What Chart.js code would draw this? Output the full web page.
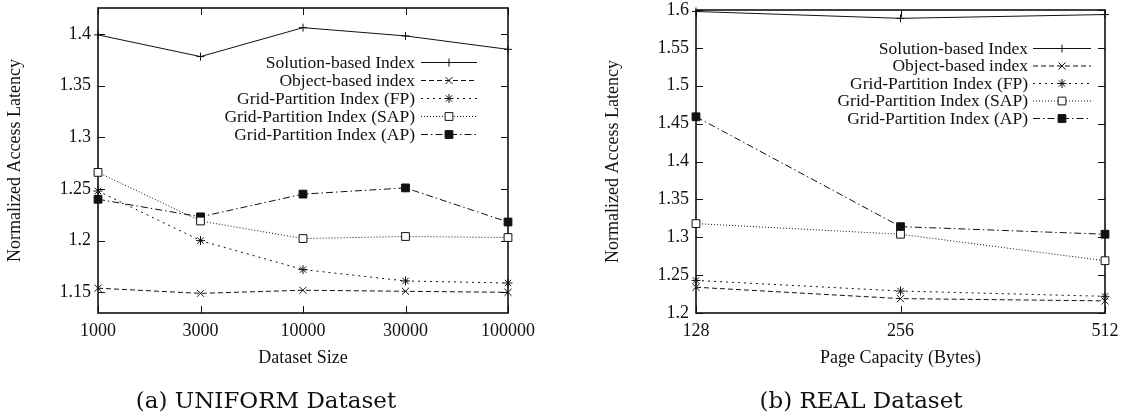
<!DOCTYPE html>
<html>
<head>
<meta charset="utf-8">
<script src="https://cdn.jsdelivr.net/npm/chart.js@4.4.1/dist/chart.umd.min.js"></script>
<style>
  html, body { margin: 0; padding: 0; background: #fff; }
  #wrap { position: relative; width: 1124px; height: 420px; overflow: hidden; background: #fff; }
  .panel { position: absolute; top: 0; height: 420px; }
  #left { left: 0; width: 560px; }
  #right { left: 560px; width: 564px; }
  .cap {
    position: absolute; top: 387px; transform: translateX(-50%);
    font-family: "DejaVu Serif", serif; font-size: 23px; line-height: 27px;
    color: #111; white-space: nowrap;
  }
</style>
</head>
<body>
<div id="wrap">
  <div class="panel" id="left"><canvas id="uniformChart" width="560" height="420"></canvas></div>
  <div class="panel" id="right"><canvas id="realChart" width="564" height="420"></canvas></div>
  <div class="cap" style="left:266px">(a) UNIFORM Dataset</div>
  <div class="cap" style="left:861px">(b) REAL Dataset</div>
</div>
<script>
// Series names (shared by both panels)
const seriesNames = [
  'Solution-based Index',
  'Object-based index',
  'Grid-Partition Index (FP)',
  'Grid-Partition Index (SAP)',
  'Grid-Partition Index (AP)'
];

// (a) UNIFORM dataset: normalized access latency vs dataset size
const uniformSizes    = ['1000', '3000', '10000', '30000', '100000'];
const uniformSolution = [1.399, 1.378, 1.406, 1.398, 1.385];
const uniformObject   = [1.154, 1.149, 1.152, 1.151, 1.150];
const uniformFP       = [1.248, 1.200, 1.172, 1.161, 1.159];
const uniformSAP      = [1.266, 1.219, 1.202, 1.204, 1.203];
const uniformAP       = [1.240, 1.223, 1.245, 1.251, 1.218];
const uniformTicks    = [1.15, 1.2, 1.25, 1.3, 1.35, 1.4];

// (b) REAL dataset: normalized access latency vs page capacity
const realCapacities = ['128', '256', '512'];
const realSolution   = [1.598, 1.589, 1.594];
const realObject     = [1.234, 1.219, 1.216];
const realFP         = [1.243, 1.229, 1.222];
const realSAP        = [1.318, 1.304, 1.269];
const realAP         = [1.459, 1.314, 1.304];
const realTicks      = [1.2, 1.25, 1.3, 1.35, 1.4, 1.45, 1.5, 1.55, 1.6];

const INK = '#111';
const SERIF = '"Liberation Serif", "Times New Roman", serif';

// gnuplot-like line types: dash pattern + point symbol
const lineTypes = [
  { dash: [],             point: 'cross',    radius: 4,   fill: INK },
  { dash: [5, 3],         point: 'crossRot', radius: 5,   fill: INK },
  { dash: [2, 4],         point: 'star',     radius: 4.5, fill: INK },
  { dash: [1, 2],         point: 'rect',     radius: 5.5, fill: '#fff' },
  { dash: [7, 3, 1.5, 3], point: 'rect',     radius: 5.5, fill: INK }
];

function makeDatasets(seriesList) {
  return seriesList.map((values, i) => {
    const t = lineTypes[i];
    return {
      label: seriesNames[i],
      data: values,
      borderColor: INK,
      borderWidth: 1,
      borderDash: t.dash,
      pointStyle: t.point,
      pointRadius: t.radius,
      pointHoverRadius: t.radius,
      pointBorderWidth: 1,
      pointBorderColor: INK,
      pointBackgroundColor: t.fill,
      backgroundColor: t.fill,
      tension: 0,
      fill: false,
      clip: false
    };
  });
}

// Closed frame with inward tick marks on all four sides
const framePlugin = {
  id: 'gpFrame',
  beforeDatasetsDraw(chart) {
    const { ctx, chartArea: a, scales: { x, y } } = chart;
    const tl = 7;
    ctx.save();
    ctx.strokeStyle = INK;
    ctx.setLineDash([]);
    ctx.lineWidth = 1;
    ctx.beginPath();
    y.ticks.forEach((t) => {
      const py = Math.round(y.getPixelForValue(t.value)) + 0.5;
      ctx.moveTo(a.left, py); ctx.lineTo(a.left + tl, py);
      ctx.moveTo(a.right, py); ctx.lineTo(a.right - tl, py);
    });
    x.ticks.forEach((t, i) => {
      const px = Math.round(x.getPixelForTick(i)) + 0.5;
      ctx.moveTo(px, a.bottom); ctx.lineTo(px, a.bottom - tl);
      ctx.moveTo(px, a.top); ctx.lineTo(px, a.top + tl);
    });
    ctx.stroke();
    ctx.lineWidth = 1.6;
    ctx.strokeRect(a.left, a.top, a.right - a.left, a.bottom - a.top);
    ctx.restore();
  }
};

// gnuplot-style key: right-aligned titles followed by a sample line with its symbol
const keyPlugin = {
  id: 'gpKey',
  afterDatasetsDraw(chart, args, opts) {
    const { ctx, chartArea: a } = chart;
    const textRight = a.right - opts.fromRight;
    const sx0 = textRight + opts.gap;
    const sx1 = sx0 + opts.sampleLength;
    ctx.save();
    ctx.font = opts.font;
    ctx.textAlign = 'right';
    ctx.textBaseline = 'middle';
    chart.data.datasets.forEach((ds, i) => {
      const cy = a.top + opts.firstRow + i * opts.rowHeight;
      ctx.fillStyle = INK;
      ctx.fillText(ds.label, textRight, cy + 1);
      ctx.strokeStyle = INK;
      ctx.lineWidth = 1;
      ctx.setLineDash(ds.borderDash);
      ctx.beginPath();
      ctx.moveTo(sx0, cy + 0.5); ctx.lineTo(sx1, cy + 0.5);
      ctx.stroke();
      ctx.setLineDash([]);
      ctx.fillStyle = ds.pointBackgroundColor;
      Chart.helpers.drawPoint(ctx, {
        pointStyle: ds.pointStyle, radius: ds.pointRadius, rotation: 0, borderWidth: 1
      }, (sx0 + sx1) / 2, cy + 0.5);
    });
    ctx.restore();
  }
};

const fmt = (v) => String(Number(v.toFixed(2)));

function makeChart(canvasId, labels, seriesList, tickValues, yRange, xTitle, layoutPad, key) {
  return new Chart(document.getElementById(canvasId), {
    type: 'line',
    data: { labels, datasets: makeDatasets(seriesList) },
    plugins: [framePlugin, keyPlugin],
    options: {
      responsive: false,
      animation: false,
      devicePixelRatio: 1,
      layout: { padding: layoutPad },
      plugins: {
        legend: { display: false },
        tooltip: { enabled: false },
        gpKey: key
      },
      scales: {
        x: {
          type: 'category',
          offset: false,
          grid: { display: false, drawTicks: false },
          border: { display: false },
          ticks: { color: INK, font: { family: SERIF, size: 18 }, padding: 7, maxRotation: 0, autoSkip: false },
          title: { display: true, text: xTitle, color: INK, font: { family: SERIF, size: 18 }, padding: { top: 0, bottom: 0 } },
          afterFit(s) { s.height = 56; s.paddingLeft = 0; s.paddingRight = 0; }
        },
        y: {
          type: 'linear',
          min: yRange[0],
          max: yRange[1],
          grid: { display: false, drawTicks: false },
          border: { display: false },
          afterBuildTicks(s) { s.ticks = tickValues.map((v) => ({ value: v })); },
          ticks: { color: INK, font: { family: SERIF, size: 18 }, padding: 7, callback: (v) => fmt(v) },
          title: { display: true, text: 'Normalized Access Latency', color: INK, font: { family: SERIF, size: 18 }, padding: { top: 4, bottom: 0 } },
          afterFit(s) { s.width = 98; s.paddingTop = 0; s.paddingBottom = 0; }
        }
      }
    }
  });
}

makeChart('uniformChart', uniformSizes,
  [uniformSolution, uniformObject, uniformFP, uniformSAP, uniformAP],
  uniformTicks, [1.13, 1.425], 'Dataset Size',
  { left: 0, top: 8, right: 52, bottom: 51 },
  { font: '17.5px ' + SERIF, fromRight: 93, gap: 6, sampleLength: 56, firstRow: 54, rowHeight: 18 });

makeChart('realChart', realCapacities,
  [realSolution, realObject, realFP, realSAP, realAP],
  realTicks, [1.2, 1.6], 'Page Capacity (Bytes)',
  { left: 38, top: 10, right: 19, bottom: 51 },
  { font: '17.5px ' + SERIF, fromRight: 77, gap: 5, sampleLength: 58, firstRow: 38, rowHeight: 17.5 });
</script>
</body>
</html>
